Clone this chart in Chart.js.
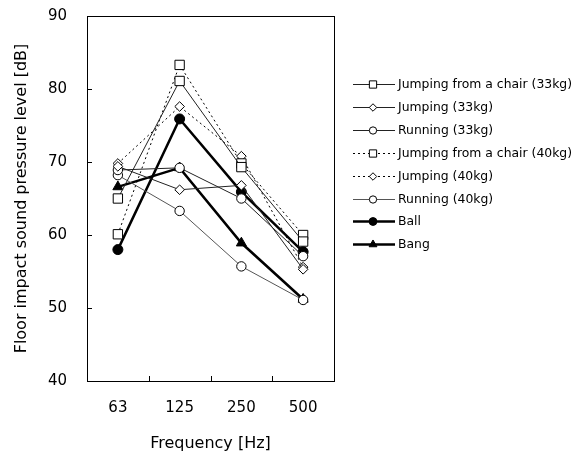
<!DOCTYPE html>
<html>
<head>
<meta charset="utf-8">
<script src="https://cdn.jsdelivr.net/npm/chart.js@4.4.1/dist/chart.umd.min.js"></script>
<style>
  html, body { margin: 0; padding: 0; background: #fff; }
  #wrap { width: 579px; height: 453px; }
</style>
</head>
<body>
<div id="wrap"><canvas id="myChart" width="579" height="453"></canvas></div>
<script>
// frequency bands and tick labels
var categories = ['63', '125', '250', '500'];
var yTicks = [40, 50, 60, 70, 80, 90];

// floor impact sound pressure level [dB]
var jumpChair33 = [65.0, 81.1, 69.3, 59.1];
var jump33 = [69.4, 66.2, 66.8, 55.3];
var run33 = [68.9, 69.2, 65.0, 57.1];
var jumpChair40 = [60.1, 83.3, 69.8, 60.0];
var jump40 = [69.8, 77.6, 70.8, 55.6];
var run40 = [68.2, 63.3, 55.7, 51.1];
var ball = [58.0, 75.9, 65.9, 57.7];
var bang = [66.6, 69.2, 58.9, 51.2];

var FONT = "'DejaVu Sans', Verdana, sans-serif";

function series(label, data, style, radius, fill, width, dash, color) {
    return {
        label: label,
        data: data,
        borderColor: color || '#000',
        borderWidth: width,
        borderDash: dash || [],
        pointStyle: style,
        pointRadius: radius,
        pointHoverRadius: radius,
        pointBackgroundColor: fill,
        pointBorderColor: '#000',
        pointBorderWidth: 1,
        tension: 0,
        fill: false
    };
}

var datasets = [
    series('Jumping from a chair (33kg)', jumpChair33, 'rect', 6.6, '#fff', 1, [], '#222'),
    series('Jumping (33kg)', jump33, 'rectRot', 4.8, '#fff', 1, [], '#222'),
    series('Running (33kg)', run33, 'circle', 4.7, '#fff', 1, [], '#222'),
    series('Jumping from a chair (40kg)', jumpChair40, 'rect', 6.6, '#fff', 1, [2, 3], '#000'),
    series('Jumping (40kg)', jump40, 'rectRot', 4.8, '#fff', 1, [2, 3], '#000'),
    series('Running (40kg)', run40, 'circle', 4.7, '#fff', 1, [], '#555'),
    series('Ball', ball, 'circle', 5, '#000', 2.5, [], '#000'),
    series('Bang', bang, 'triangle', 5.8, '#000', 2.5, [], '#000')
];

// frame, inward ticks and the side legend
var framePlugin = {
    id: 'frame',
    afterDraw: function (chart) {
        var ctx = chart.ctx;
        var a = chart.chartArea;
        var ys = chart.scales.y;
        ctx.save();
        ctx.strokeStyle = '#000';
        ctx.lineWidth = 1;
        ctx.setLineDash([]);
        ctx.strokeRect(Math.round(a.left) + 0.5, Math.round(a.top) + 0.5,
            Math.round(a.right - a.left), Math.round(a.bottom - a.top));
        ctx.beginPath();
        yTicks.slice(1, -1).forEach(function (v) {
            var y = Math.round(ys.getPixelForValue(v)) + 0.5;
            ctx.moveTo(a.left, y);
            ctx.lineTo(a.left + 5, y);
        });
        var w = (a.right - a.left) / categories.length;
        for (var k = 1; k < categories.length; k++) {
            var x = Math.round(a.left + k * w) + 0.5;
            ctx.moveTo(x, a.bottom);
            ctx.lineTo(x, a.bottom - 5);
        }
        ctx.stroke();

        // legend
        ctx.font = '12.4px ' + FONT;
        ctx.textBaseline = 'middle';
        ctx.textAlign = 'left';
        chart.data.datasets.forEach(function (ds, i) {
            var y = Math.round(84 + i * 22.9) + 0.5;
            ctx.beginPath();
            ctx.strokeStyle = ds.borderColor;
            ctx.lineWidth = ds.borderWidth;
            ctx.setLineDash(ds.borderDash);
            ctx.moveTo(353, y);
            ctx.lineTo(395, y);
            ctx.stroke();
            ctx.setLineDash([]);
            ctx.fillStyle = ds.pointBackgroundColor;
            ctx.strokeStyle = '#000';
            ctx.lineWidth = 1;
            Chart.helpers.drawPoint(ctx, {
                pointStyle: ds.pointStyle,
                radius: ds.pointRadius * 0.78,
                rotation: 0,
                borderWidth: 1
            }, 373, y);
            ctx.fillStyle = '#000';
            ctx.fillText(ds.label, 398, y);
        });
        ctx.restore();
    }
};

var ctx = document.getElementById('myChart');

var myChart = new Chart(ctx, {
    type: 'line',
    data: {
        labels: categories,
        datasets: datasets
    },
    options: {
        responsive: false,
        animation: false,
        devicePixelRatio: 1,
        layout: { padding: { top: 16, right: 245, left: 0, bottom: 0 } },
        plugins: {
            legend: { display: false },
            tooltip: { enabled: false }
        },
        scales: {
            x: {
                offset: true,
                grid: { display: false, drawTicks: false },
                border: { display: false },
                ticks: { color: '#000', padding: 18, font: { family: FONT, size: 15 } },
                title: {
                    display: true,
                    text: 'Frequency [Hz]',
                    color: '#000',
                    font: { family: FONT, size: 16 },
                    padding: { top: 0, bottom: 0 }
                },
                afterFit: function (scale) { scale.height = 72; }
            },
            y: {
                min: 40,
                max: 90,
                grid: { display: false, drawTicks: false },
                border: { display: false },
                ticks: {
                    stepSize: 10,
                    color: '#000',
                    padding: 20,
                    font: { family: FONT, size: 15 }
                },
                title: {
                    display: true,
                    text: 'Floor impact sound pressure level [dB]',
                    color: '#000',
                    font: { family: FONT, size: 16 },
                    padding: { top: 12, bottom: 0 }
                },
                afterFit: function (scale) {
                    scale.width = 87;
                    scale.paddingTop = 0;
                    scale.paddingBottom = 0;
                }
            }
        }
    },
    plugins: [framePlugin]
});
</script>
</body>
</html>
